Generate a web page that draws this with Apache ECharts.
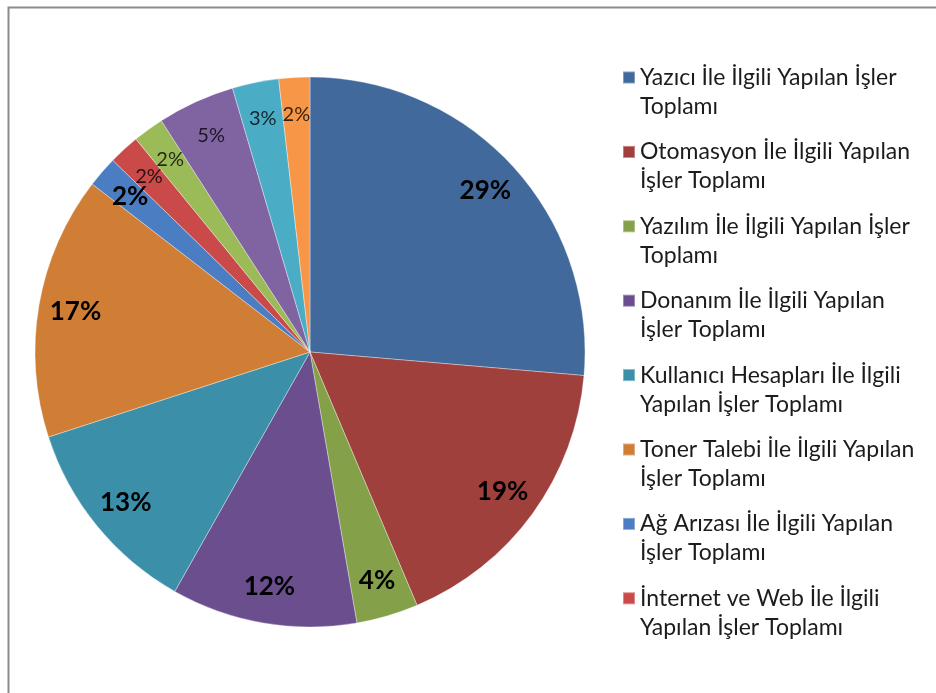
<!DOCTYPE html>
<html>
<head>
<meta charset="utf-8">
<script src="https://cdn.jsdelivr.net/npm/echarts@6/dist/echarts.min.js"></script>
<style>
  html, body { margin: 0; padding: 0; background: #fff; }
  #chart { width: 936px; height: 693px; }
</style>
</head>
<body>
<div id="chart"></div>
<script>
// Work categories (the first eight appear in the legend)
const categories = [
  'Yazıcı İle İlgili Yapılan İşler Toplamı',
  'Otomasyon İle İlgili Yapılan İşler Toplamı',
  'Yazılım İle İlgili Yapılan İşler Toplamı',
  'Donanım İle İlgili Yapılan İşler Toplamı',
  'Kullanıcı Hesapları İle İlgili Yapılan İşler Toplamı',
  'Toner Talebi İle İlgili Yapılan İşler Toplamı',
  'Ağ Arızası İle İlgili Yapılan İşler Toplamı',
  'İnternet ve Web İle İlgili Yapılan İşler Toplamı',
  'Diğer İşler 1',
  'Diğer İşler 2',
  'Diğer İşler 3',
  'Diğer İşler 4'
];

// Share of each category, in percent
const shares = [29, 19, 4, 12, 13, 17, 2, 2, 2, 5, 3, 2];

// Legend text, wrapped over two lines
const legendText = [
  'Yazıcı İle İlgili Yapılan İşler\nToplamı',
  'Otomasyon İle İlgili Yapılan\nİşler Toplamı',
  'Yazılım İle İlgili Yapılan İşler\nToplamı',
  'Donanım İle İlgili Yapılan\nİşler Toplamı',
  'Kullanıcı Hesapları İle İlgili\nYapılan İşler Toplamı',
  'Toner Talebi İle İlgili Yapılan\nİşler Toplamı',
  'Ağ Arızası İle İlgili Yapılan\nİşler Toplamı',
  'İnternet ve Web İle İlgili\nYapılan İşler Toplamı'
];

const legendCount = 8;
const boldCount = 7;

const palette = [
  '#41699B', '#A0403D', '#84A048', '#6A4E8D', '#3C8FA9', '#D07E36',
  '#4A7DC2', '#C94A49', '#9BBB59', '#8064A2', '#4BACC6', '#F79646'
];

const FONT = 'Lato';
const center = [310, 352];
const R = 275;
const lineH = 29;

const wrapMap = {};
categories.slice(0, legendCount).forEach((c, i) => { wrapMap[c] = legendText[i]; });

const sliceData = categories.map((name, i) => ({
  name: name,
  value: shares[i],
  itemStyle: { color: palette[i] }
}));

const labelData = categories.map((name, i) => ({
  name: name,
  value: shares[i],
  label: i < boldCount
    ? { fontSize: 26, fontWeight: 'bold', color: '#000' }
    : { fontSize: 20, fontWeight: 'normal', color: 'rgba(0,0,0,0.78)' }
}));

// legend icon: a 12px square sitting on the first text line of a two-line item
const iconH = lineH * 2;
const sqTop = lineH / 2 - 6;
const legendIcon = 'path://M0,0L0,0M0,' + sqTop + 'L12,' + sqTop + 'L12,' + (sqTop + 12) +
  'L0,' + (sqTop + 12) + 'Z M0,' + iconH + 'L0,' + iconH;

const chart = echarts.init(document.getElementById('chart'));
chart.setOption({
  backgroundColor: '#fff',
  animation: false,
  graphic: [{
    type: 'rect',
    left: 6, top: 5,
    shape: { width: 960, height: 720 },
    style: { fill: 'none', stroke: '#8c8c8c', lineWidth: 2 },
    silent: true,
    z: 0
  }],
  legend: {
    orient: 'vertical',
    left: 617,
    top: 57,
    icon: legendIcon,
    itemWidth: 12,
    itemHeight: iconH,
    itemGap: 14.4,
    data: categories.slice(0, legendCount),
    selectedMode: false,
    formatter: name => wrapMap[name] || name,
    textStyle: {
      fontFamily: FONT,
      fontSize: 23,
      lineHeight: lineH,
      color: '#1c1c1c'
    }
  },
  series: [
    {
      type: 'pie',
      center: center,
      radius: [0, R],
      startAngle: 90,
      clockwise: true,
      label: { show: false },
      labelLine: { show: false },
      itemStyle: { borderColor: 'rgba(255,255,255,0.35)', borderWidth: 1 },
      emphasis: { disabled: true },
      data: sliceData
    },
    {
      type: 'pie',
      center: center,
      radius: [195, R],
      startAngle: 90,
      clockwise: true,
      silent: true,
      avoidLabelOverlap: false,
      legendHoverLink: false,
      itemStyle: { color: 'rgba(0,0,0,0)', borderWidth: 0 },
      label: {
        show: true,
        position: 'inside',
        formatter: '{c}%',
        fontFamily: FONT
      },
      labelLine: { show: false },
      labelLayout: { hideOverlap: false },
      emphasis: { disabled: true },
      data: labelData
    }
  ]
});
</script>
</body>
</html>
